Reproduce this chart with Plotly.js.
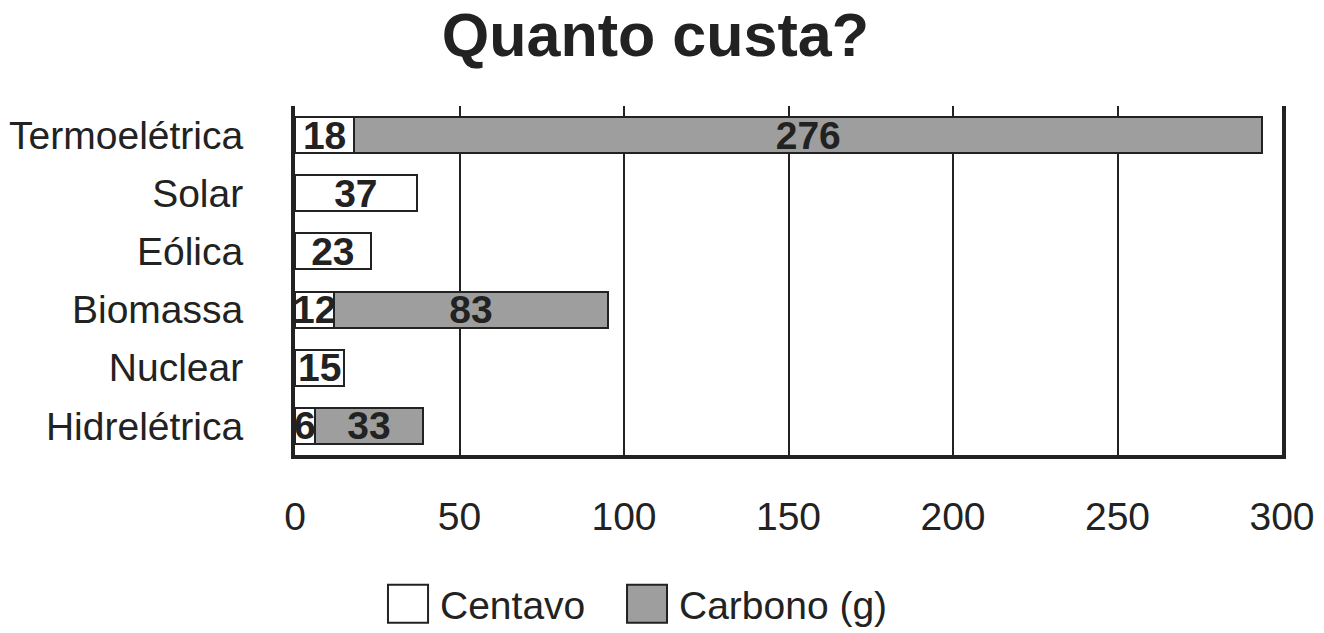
<!DOCTYPE html>
<html>
<head>
<meta charset="utf-8">
<script src="https://cdn.plot.ly/plotly-3.0.1.min.js"></script>
<style>
  html, body { margin: 0; padding: 0; background: #fff; }
  #graph { width: 1324px; height: 633px; }
</style>
</head>
<body>
<div id="graph"></div>
<script>
// fontes de energia, de cima para baixo
var categorias = ['Termoelétrica', 'Solar', 'Eólica', 'Biomassa', 'Nuclear', 'Hidrelétrica'];
var centavo = [18, 37, 23, 12, 15, 6];
var carbono = [276, null, null, 83, null, 33];
var xTicks = [0, 50, 100, 150, 200, 250, 300];

var fonte = 'Liberation Sans, Arial, sans-serif';
var tinta = '#222222';
var tam = 39;

function rotulos(vals) {
  return vals.map(function (v) { return v == null ? '' : String(v); });
}

var barCentavo = {
  type: 'bar',
  orientation: 'h',
  name: 'Centavo',
  y: categorias,
  x: centavo,
  text: rotulos(centavo),
  textposition: 'inside',
  insidetextanchor: 'middle',
  textangle: 0,
  constraintext: 'none',
  textfont: { family: fonte, size: tam, color: tinta, weight: 'bold' },
  marker: { color: '#ffffff', line: { color: tinta, width: 2 } },
  hoverinfo: 'x+y'
};

var barCarbono = {
  type: 'bar',
  orientation: 'h',
  name: 'Carbono (g)',
  y: categorias,
  x: carbono,
  text: rotulos(carbono),
  textposition: 'inside',
  insidetextanchor: 'middle',
  textangle: 0,
  constraintext: 'none',
  textfont: { family: fonte, size: tam, color: tinta, weight: 'bold' },
  marker: { color: '#9e9e9e', line: { color: tinta, width: 2 } },
  hoverinfo: 'x+y'
};

// legenda desenhada à mão (caixas grandes como no original)
var legY0 = -0.372, legY1 = -0.481, legYText = -0.43;
var shapes = [
  { type: 'rect', xref: 'paper', yref: 'paper', x0: 0.0942, x1: 0.1348, y0: legY0, y1: legY1,
    fillcolor: '#ffffff', line: { color: tinta, width: 2 } },
  { type: 'rect', xref: 'paper', yref: 'paper', x0: 0.3364, x1: 0.3769, y0: legY0, y1: legY1,
    fillcolor: '#9e9e9e', line: { color: tinta, width: 2 } }
];
var annotations = [
  { xref: 'paper', yref: 'paper', x: 0.145, y: legYText, xanchor: 'left', yanchor: 'middle',
    text: 'Centavo', showarrow: false, font: { family: fonte, size: tam, color: tinta } },
  { xref: 'paper', yref: 'paper', x: 0.387, y: legYText, xanchor: 'left', yanchor: 'middle',
    text: 'Carbono (g)', showarrow: false, font: { family: fonte, size: tam, color: tinta } }
];

var layout = {
  width: 1324,
  height: 633,
  margin: { l: 295, r: 42, t: 106, b: 178 },
  paper_bgcolor: '#ffffff',
  plot_bgcolor: '#ffffff',
  barmode: 'stack',
  bargap: 0.38,
  showlegend: false,
  font: { family: fonte, color: tinta },
  title: {
    text: 'Quanto custa?',
    font: { family: fonte, size: 61, color: tinta, weight: 'bold' },
    x: 0.495, xanchor: 'center',
    y: 0.945, yanchor: 'middle'
  },
  xaxis: {
    range: [0, 300],
    tickvals: xTicks,
    ticktext: xTicks.map(String),
    showgrid: true,
    gridcolor: tinta,
    gridwidth: 2,
    zeroline: false,
    showline: true,
    linecolor: tinta,
    linewidth: 4,
    ticks: '',
    ticklabelstandoff: 24,
    tickfont: { family: fonte, size: tam, color: tinta },
    fixedrange: true
  },
  yaxis: {
    type: 'category',
    categoryorder: 'array',
    categoryarray: categorias,
    autorange: 'reversed',
    showgrid: false,
    zeroline: false,
    showline: true,
    mirror: true,
    linecolor: tinta,
    linewidth: 4,
    ticks: '',
    ticklabelstandoff: 40,
    tickfont: { family: fonte, size: tam, color: tinta },
    fixedrange: true
  },
  shapes: shapes,
  annotations: annotations
};

Plotly.newPlot('graph', [barCentavo, barCarbono], layout, { displayModeBar: false, staticPlot: true });
</script>
</body>
</html>
